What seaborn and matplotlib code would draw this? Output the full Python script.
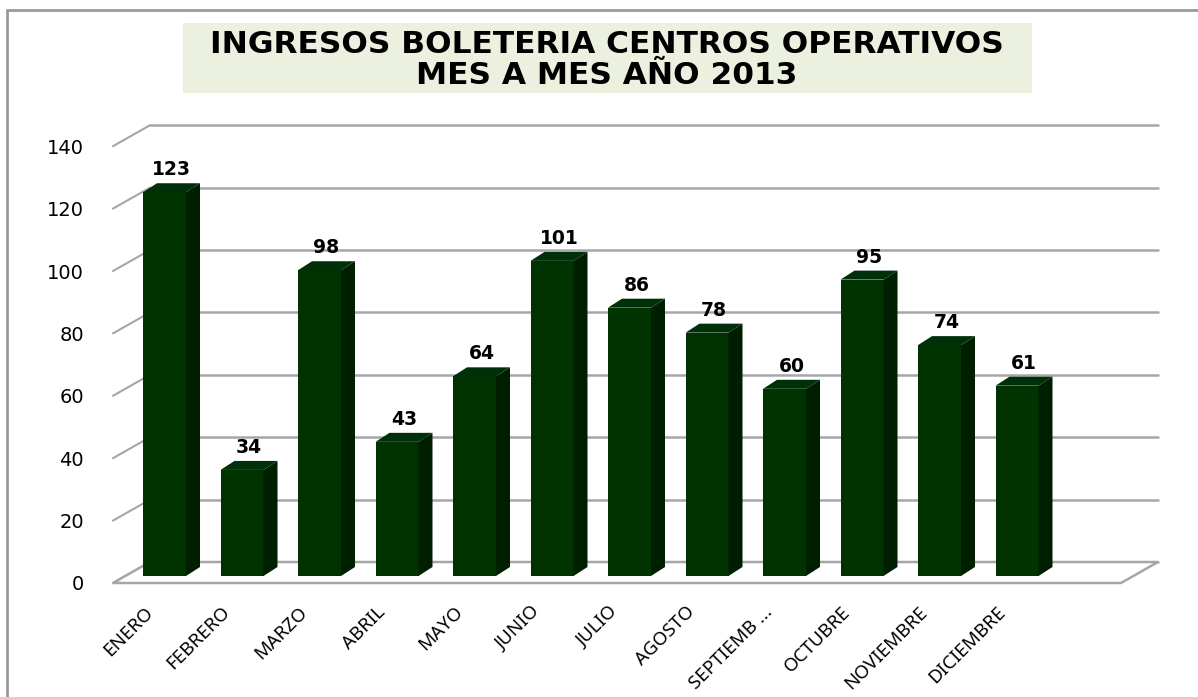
import numpy as np
import pandas as pd
import matplotlib
matplotlib.use("Agg")
import matplotlib.pyplot as plt
import matplotlib.transforms as mtransforms
from matplotlib.patches import Polygon, Rectangle
from matplotlib.lines import Line2D
import seaborn as sns

# Data
meses = ['ENERO', 'FEBRERO', 'MARZO', 'ABRIL', 'MAYO', 'JUNIO', 'JULIO',
         'AGOSTO', 'SEPTIEMB ...', 'OCTUBRE', 'NOVIEMBRE', 'DICIEMBRE']
ingresos = [123, 34, 98, 43, 64, 101, 86, 78, 60, 95, 74, 61]
y_ticks = [0, 20, 40, 60, 80, 100, 120, 140]
titulo = 'INGRESOS BOLETERIA CENTROS OPERATIVOS\nMES A MES AÑO 2013'

df = pd.DataFrame({'mes': meses, 'ingresos': ingresos})

sns.set_theme(style="white")
plt.rcParams['font.family'] = ['DejaVu Sans']

W, H = 1198, 697
fig = plt.figure(figsize=(W / 100, H / 100), dpi=100)

# axes in "bar plane" pixel geometry
px_left, px_right = 125, 1133
px_bottom, px_top = 576, 120
ax = fig.add_axes([px_left / W, 1 - px_bottom / H,
                   (px_right - px_left) / W, (px_bottom - px_top) / H])
ax.patch.set_alpha(0)

step = 77.5
x0 = 164.5
unit = 3.12  # pixels per value unit
bar_w = 43 / step

sns.barplot(data=df, x='mes', y='ingresos', color='#003300', saturation=1,
            width=bar_w, ax=ax, zorder=3, linewidth=0)

# fix the scales after seaborn has set its own limits
ax.set_xlim((px_left - x0) / step, (px_right - x0) / step)
ax.set_ylim(0, (px_bottom - px_top) / unit)


def off(dx, dy):
    return ax.transData + mtransforms.ScaledTranslation(dx / 100, dy / 100, fig.dpi_scale_trans)


xmin, xmax = ax.get_xlim()
grid_c = '#a6a6a6'
# back wall gridlines and left diagonals
for v in y_ticks:
    ax.add_line(Line2D([xmin, xmax], [v, v], transform=off(25, 14), color=grid_c,
                       lw=1.8, zorder=1, clip_on=False))
    p = ax.transData.transform((xmin, v))
    p_front = p + np.array([-12, -7])
    p_back = p + np.array([25, 14])
    ax.add_line(Line2D([p_front[0], p_back[0]], [p_front[1], p_back[1]],
                       transform=mtransforms.IdentityTransform(), color=grid_c, lw=1.5,
                       zorder=1, clip_on=False))

# floor
fl = ax.transData.transform([(xmin, 0), (xmax, 0)])
floor = [fl[0] + [-12, -7], fl[1] + [-12, -7], fl[1] + [25, 14], fl[0] + [25, 14]]
ax.add_patch(Polygon(floor, closed=True, facecolor='white', edgecolor=grid_c, lw=1.8,
                     transform=mtransforms.IdentityTransform(), zorder=2, clip_on=False))

# pseudo 3D side and top faces of the bars
dx = 14 / step
dy = 9 / unit
bars = [p for p in ax.patches if isinstance(p, Rectangle)]
for p, v in zip(bars, ingresos):
    a = p.get_x()
    b = a + p.get_width()
    h = p.get_height()
    ax.add_patch(Polygon([(b, 0), (b + dx, dy), (b + dx, h + dy), (b, h)], closed=True,
                         facecolor='#001f00', edgecolor='none', zorder=3, clip_on=False))
    ax.add_patch(Polygon([(a, h), (b, h), (b + dx, h + dy), (a + dx, h + dy)], closed=True,
                         facecolor='#00300a', edgecolor='none', zorder=3, clip_on=False))
    ax.text(a + (b - a + dx) / 2, h + dy, f'{v}', ha='center', va='bottom',
            fontsize=13.5, fontweight='bold', color='black', zorder=4,
            transform=off(0, 4))

sns.despine(ax=ax, left=True, bottom=True)
ax.set_xlabel('')
ax.set_ylabel('')
ax.set_yticks(y_ticks)
ax.set_yticklabels([str(t) for t in y_ticks], fontsize=14, color='black')
ax.tick_params(axis='y', length=0, pad=21)
for lab in ax.get_yticklabels():
    lab.set_transform(lab.get_transform() + mtransforms.ScaledTranslation(-0.12, -0.07, fig.dpi_scale_trans))

ax.set_xticks(range(len(meses)))
ax.set_xticklabels(meses, rotation=45, ha='right', va='top', rotation_mode='anchor',
                   fontsize=13.5, color='black', family=['Noto Sans', 'DejaVu Sans'])
ax.tick_params(axis='x', length=0, pad=0)
for lab in ax.get_xticklabels():
    lab.set_transform(lab.get_transform() + mtransforms.ScaledTranslation(-0.21, -0.27, fig.dpi_scale_trans))

# title box
fig.patches.append(Rectangle((183 / W, 1 - 93 / H), (1032 - 183) / W, (93 - 23) / H,
                             transform=fig.transFigure, facecolor='#ebf1de',
                             edgecolor='none', zorder=0))
fig.text(607 / W, 1 - 60 / H, titulo, ha='center', va='center', fontsize=22.5,
         fontweight='bold', color='black', linespacing=1.05)

# outer frame (left and top edges)
fig.add_artist(Line2D([7 / W, 7 / W], [0, 1 - 10 / H], transform=fig.transFigure,
                      color='#9a9a9a', lw=2))
fig.add_artist(Line2D([7 / W, 1], [1 - 10 / H, 1 - 10 / H], transform=fig.transFigure,
                      color='#9a9a9a', lw=2))

fig.savefig('out.png', dpi=100)
